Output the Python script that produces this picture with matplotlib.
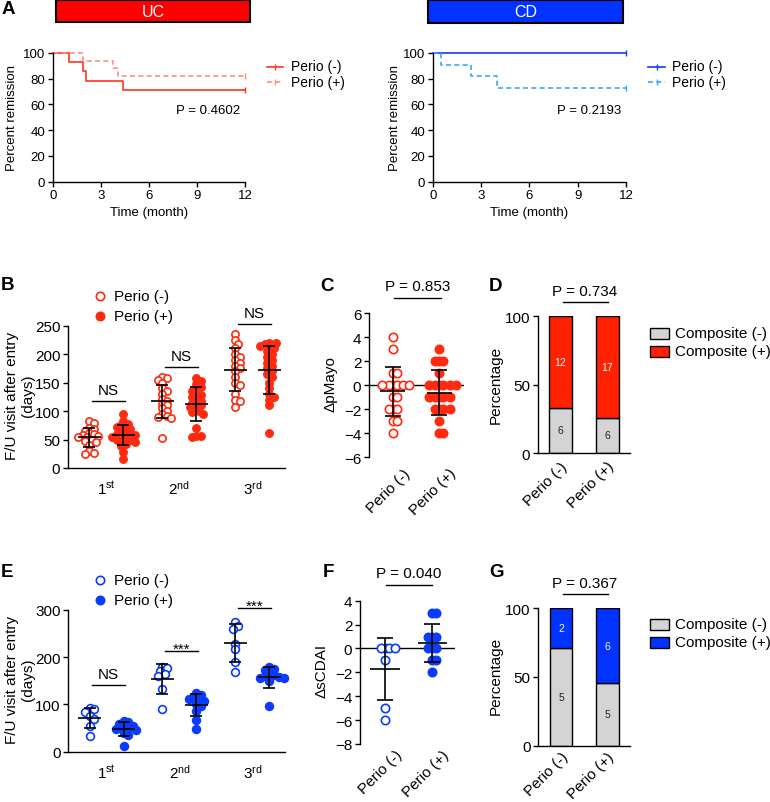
import numpy as np
import matplotlib
matplotlib.use('Agg')
import matplotlib.pyplot as plt
import matplotlib.transforms as mtrans
from matplotlib.patches import Rectangle

plt.rcParams['font.family'] = ['Liberation Sans', 'DejaVu Sans']
plt.rcParams['mathtext.default'] = 'regular'

W, H = 770, 803
RED = '#ff2a10'
BLUE = '#0a3cff'
GRAY = '#d4d4d4'

# ---- A: survival curves (time in months, % remission) ----
uc_neg_t = [0, 1.0, 1.87, 2.1, 4.4, 12]
uc_neg_s = [100, 92.9, 85.7, 78.6, 71.4, 71.4]
uc_pos_t = [0, 1.87, 3.74, 4.1, 12]
uc_pos_s = [100, 94.1, 88.2, 82.4, 82.4]
cd_neg_t = [0, 12]
cd_neg_s = [100, 100]
cd_pos_t = [0, 0.5, 2.36, 3.97, 12]
cd_pos_s = [100, 90.9, 81.8, 72.7, 72.7]

# ---- B: UC follow-up visit days ----
visits = ['1$^{st}$', '2$^{nd}$', '3$^{rd}$']
uc_fu_neg = [
    [83, 79, 70, 68, 65, 62, 60, 58, 57, 55, 55, 50, 48, 45, 40, 30, 27, 25],
    [160, 158, 155, 150, 140, 135, 130, 122, 118, 113, 110, 105, 100, 95, 92, 90, 88, 53],
    [235, 225, 218, 210, 200, 195, 190, 185, 180, 175, 170, 160, 150, 145, 130, 120, 118, 108],
]
uc_fu_pos = [
    [95, 82, 78, 75, 72, 70, 68, 65, 62, 60, 60, 58, 56, 55, 52, 50, 50, 48, 45, 42, 38, 28, 15],
    [158, 152, 148, 142, 138, 135, 130, 128, 125, 120, 118, 115, 112, 110, 108, 105, 100, 98, 95, 70, 57, 56, 55],
    [220, 220, 218, 215, 212, 210, 205, 200, 195, 190, 185, 180, 175, 170, 165, 160, 150, 140, 130, 125, 120, 110, 62],
]
uc_sig = ['NS', 'NS', 'NS']

# ---- C: delta pMayo ----
groups = ['Perio (-)', 'Perio (+)']
pmayo_neg = [4, 3, 1, 1, 0, 0, 0, 0, 0, 0, -1, -1, -2, -2, -2, -3, -3, -4]
pmayo_pos = [3, 2, 2, 2, 1, 0, 0, 0, 0, 0, 0, -1, -1, -1, -1, -1, -2, -2, -2, -2, -3, -4, -4]

# ---- D: UC composite counts ----
uc_comp_neg = [6, 6]
uc_comp_pos = [12, 17]

# ---- E: CD follow-up visit days ----
cd_fu_neg = [
    [92, 90, 84.5, 76, 69, 55, 34],
    [180, 176, 170, 165, 160, 132, 90],
    [275, 265, 260, 228, 217, 190, 168],
]
cd_fu_pos = [
    [65, 62, 58, 55, 52, 50, 48, 46, 40, 35, 13],
    [125, 120, 115, 112, 110, 108, 100, 97, 85, 68, 47],
    [178, 175, 172, 165, 162, 160, 158, 155, 155, 150, 97],
]
cd_sig = ['NS', '***', '***']

# ---- F: delta sCDAI ----
scdai_neg = [0, 0, 0, 0, -1, -5, -6]
scdai_pos = [3, 3, 1, 1, 1, 0, 0, 0, -1, -1, -2]

# ---- G: CD composite counts ----
cd_comp_neg = [5, 5]
cd_comp_pos = [2, 6]

fig = plt.figure(figsize=(W / 100, H / 100), dpi=100)


def add_ax(x0, y0, x1, y1):
    return fig.add_axes([x0 / W, 1 - y1 / H, (x1 - x0) / W, (y1 - y0) / H])


def prism(ax, fs):
    for s in ['top', 'right']:
        ax.spines[s].set_visible(False)
    for s in ['left', 'bottom']:
        ax.spines[s].set_linewidth(1.0)
    ax.tick_params(direction='out', length=3.5, width=1.0, labelsize=fs, pad=2)


def swarm(ax, xc, vals, diam, gap):
    vals = np.asarray(vals, dtype=float)
    disp = ax.transData.transform(np.column_stack([np.full(len(vals), xc, dtype=float), vals]))
    out = disp.copy()
    placed = []
    step = diam * gap * 0.5
    for i in np.argsort(-vals, kind='stable'):
        x0, y0 = disp[i]
        cx = x0
        for k in range(400):
            off = ((k + 1) // 2) * step * (1 if k % 2 else -1)
            cx = x0 + off
            if all((cx - px) ** 2 + (y0 - py) ** 2 >= (diam * gap) ** 2 for px, py in placed):
                break
        placed.append((cx, y0))
        out[i, 0] = cx
    return ax.transData.inverted().transform(out)[:, 0]


def dots(ax, xc, vals, color, filled, msize, gap, cap, hw):
    xs = swarm(ax, xc, vals, msize * 100 / 72, gap)
    ax.scatter(xs, vals, s=msize ** 2, facecolors=color if filled else 'white',
               edgecolors=color, linewidths=1.2, zorder=2, clip_on=False)
    m = np.mean(vals)
    sd = np.std(vals, ddof=1)
    ax.errorbar(xc, m, yerr=sd, color='k', capsize=cap, elinewidth=1.2,
                capthick=1.2, zorder=3, fmt='none')
    ax.hlines(m, xc - hw, xc + hw, color='k', lw=1.2, zorder=3)


def shift_xlabels(ax, dx_px):
    off = mtrans.ScaledTranslation(dx_px / 100, 0, fig.dpi_scale_trans)
    for lab in ax.get_xticklabels():
        lab.set_transform(lab.get_transform() + off)


# ---------------- Panel A ----------------
def surv(ax, t1, s1, t2, s2, c1, c2):
    ax.step(t1, s1, where='post', color=c1, lw=1.2, clip_on=False)
    ax.step(t2, s2, where='post', color=c2, lw=1.2, ls=(0, (3, 2)), clip_on=False)
    ax.plot(t1[-1], s1[-1], marker='|', ms=4, color=c1, clip_on=False)
    ax.plot(t2[-1], s2[-1], marker='|', ms=4, color=c2, clip_on=False)
    ax.set_xlim(0, 12)
    ax.set_ylim(0, 100)
    ax.set_xticks([0, 3, 6, 9, 12])
    ax.set_yticks([0, 20, 40, 60, 80, 100])
    prism(ax, 9.5)


axA1 = add_ax(52.7, 54, 245, 182.7)
surv(axA1, uc_neg_t, uc_neg_s, uc_pos_t, uc_pos_s, '#ff3322', '#ff8c80')
axA2 = add_ax(432.7, 54, 626, 182.7)
surv(axA2, cd_neg_t, cd_neg_s, cd_pos_t, cd_pos_s, '#1438ff', '#33aaff')

# ---------------- Panels B / E ----------------
def visit_panel(ax, neg, pos, color, ymax, ystep, msize):
    ax.set_xlim(-0.525, 2.448)
    ax.set_ylim(0, ymax)
    ax.set_yticks(np.arange(0, ymax + 1, ystep))
    for i in range(3):
        dots(ax, i - 0.233, neg[i], color, False, msize, 0.62, 4.3, 0.155)
        dots(ax, i + 0.233, pos[i], color, True, msize, 0.62, 4.3, 0.155)
    ax.set_xticks(range(3))
    ax.set_xticklabels(visits)
    prism(ax, 11)
    ax.tick_params(axis='x', length=0, pad=8)


axB = add_ax(68, 326.7, 285, 469)
visit_panel(axB, uc_fu_neg, uc_fu_pos, RED, 250, 50, 5.2)
axE = add_ax(68.3, 610.7, 285, 752.7)
visit_panel(axE, cd_fu_neg, cd_fu_pos, BLUE, 300, 100, 5.6)

# ---------------- Panels C / F ----------------
def delta_panel(ax, neg, pos, color, ylo, yhi, xl, xr, cap, hw, pad):
    ax.set_xlim(xl, xr)
    ax.set_ylim(ylo, yhi)
    ax.set_yticks(np.arange(ylo, yhi + 1, 2))
    dots(ax, 0, neg, color, False, 6.0, 0.5, cap, hw)
    dots(ax, 1, pos, color, True, 6.0, 0.5, cap, hw)
    ax.axhline(0, color='k', lw=1.0, zorder=1)
    prism(ax, 11)
    ax.spines['bottom'].set_visible(False)
    ax.set_xticks([0, 1])
    ax.set_xticklabels(groups, rotation=45, ha='right', rotation_mode='anchor')
    ax.tick_params(axis='x', length=0, pad=pad)
    shift_xlabels(ax, 10)


axC = add_ax(369, 314.3, 464, 458.3)
delta_panel(axC, pmayo_neg, pmayo_pos, RED, -6, 6, -0.51, 1.53, 6.0, 0.27, 6)
axF = add_ax(360, 601.7, 455, 745)
delta_panel(axF, scdai_neg, scdai_pos, BLUE, -8, 4, -0.53, 1.48, 5.6, 0.31, 2.5)

# ---------------- Panels D / G ----------------
def comp_panel(ax, cneg, cpos, color, pad):
    cneg = np.asarray(cneg, dtype=float)
    cpos = np.asarray(cpos, dtype=float)
    pneg = cneg / (cneg + cpos) * 100
    ppos = 100 - pneg
    x = np.arange(2)
    ax.bar(x, pneg, 0.49, color=GRAY, edgecolor='k', lw=1.0)
    ax.bar(x, ppos, 0.49, bottom=pneg, color=color, edgecolor='k', lw=1.0)
    for i in range(2):
        ax.text(x[i], pneg[i] / 2, '%d' % cneg[i], ha='center', va='center', fontsize=7.5, color='#222222')
        ax.text(x[i], pneg[i] + ppos[i] / 2, '%d' % cpos[i], ha='center', va='center', fontsize=7.5, color='white')
    ax.set_xlim(-0.49, 1.49)
    ax.set_ylim(0, 100)
    ax.set_yticks([0, 50, 100])
    prism(ax, 11)
    ax.set_xticks([0, 1])
    ax.set_xticklabels(groups, rotation=45, ha='right', rotation_mode='anchor')
    ax.tick_params(axis='x', length=0, pad=pad)


axD = add_ax(537.7, 317.3, 630, 454.3)
comp_panel(axD, uc_comp_neg, uc_comp_pos, '#ff2200', 4)
axG = add_ax(538.3, 609.3, 630, 746.7)
comp_panel(axG, cd_comp_neg, cd_comp_pos, '#0033ff', 2.5)

# ---------------- annotations in pixel space ----------------
ov = fig.add_axes([0, 0, 1, 1], zorder=10)
ov.set_xlim(0, W)
ov.set_ylim(H, 0)
ov.axis('off')

# banners
ov.add_patch(Rectangle((56, 1), 194, 22, facecolor='#ff0000', edgecolor='k', lw=1.5))
ov.text(153, 12.5, 'UC', color='white', fontsize=11.5, ha='center', va='center')
ov.add_patch(Rectangle((428.3, 1), 195, 23, facecolor='#0033ff', edgecolor='k', lw=1.5))
ov.text(526, 12.5, 'CD', color='white', fontsize=11.5, ha='center', va='center')

# panel letters
for lt, x, y in [('A', 8, 9), ('B', 7, 286), ('C', 327, 287), ('D', 495, 287),
                 ('E', 7, 573), ('F', 328, 573), ('G', 497, 573)]:
    ov.text(x, y, lt, fontsize=13.5, fontweight='bold', ha='center', va='center')

# y labels
for txt, x, y, fs in [('Percent remission', 12, 118, 9.5), ('Percent remission', 395, 118, 9.5),
                      ('F/U visit after entry\n(days)', 20, 396, 11),
                      ('F/U visit after entry\n(days)', 20, 680, 11),
                      ('ΔpMayo', 331, 384, 11), ('ΔsCDAI', 322, 671, 11),
                      ('Percentage', 496, 385, 11), ('Percentage', 496, 676, 11)]:
    ov.text(x, y, txt, rotation=90, fontsize=fs, ha='center', va='center',
            multialignment='center', linespacing=1.1)

# A x labels, legends, p-values
ov.text(149, 213, 'Time (month)', fontsize=9.5, ha='center', va='center')
ov.text(529, 213, 'Time (month)', fontsize=9.5, ha='center', va='center')
for x0, cols in [(266.7, ['#ff3322', '#ff8c80']), (648.3, ['#1438ff', '#33aaff'])]:
    for j, (lab, ls) in enumerate([('Perio (-)', '-'), ('Perio (+)', (0, (3, 2)))]):
        y = 67.5 + 15 * j
        ov.plot([x0, x0 + 16.5], [y, y], color=cols[j], lw=1.2, ls=ls)
        ov.plot(x0 + 8.3, y, marker='|', ms=4, color=cols[j])
        ov.text(x0 + 24, y, lab, fontsize=10, va='center')
ov.text(240, 111.5, 'P = 0.4602', fontsize=9.5, ha='right', va='center')
ov.text(621, 111.5, 'P = 0.2193', fontsize=9.5, ha='right', va='center')

# B / E legends
for yl, col in [(296.7, RED), (580.7, BLUE)]:
    ov.scatter([100], [yl], s=36, facecolors='white', edgecolors=col, linewidths=1.2)
    ov.scatter([100], [yl + 20], s=36, facecolors=col, edgecolors=col, linewidths=1.2)
    ov.text(114, yl, 'Perio (-)', fontsize=11, va='center')
    ov.text(114, yl + 20, 'Perio (+)', fontsize=11, va='center')

# significance marks in B / E
for sig, bars in [(uc_sig, [402.3, 368.3, 325]), (cd_sig, [686, 651.7, 609])]:
    for i, (s, yb) in enumerate(zip(sig, bars)):
        xc = 108.3 + 73 * i
        ov.plot([xc - 16.7, xc + 16.7], [yb, yb], color='k', lw=1.0)
        ov.text(xc, yb - 4 if s == 'NS' else yb + 2, s, fontsize=11,
                ha='center', va='bottom' if s == 'NS' else 'baseline')

# p-value brackets in C D F G
for txt, xc, yt, yb, x0, x1 in [('P = 0.853', 417.3, 287, 299, 394, 441),
                                ('P = 0.734', 584.3, 292, 303.3, 562.7, 607.7),
                                ('P = 0.040', 408.3, 574, 586, 386, 432),
                                ('P = 0.367', 584.3, 584, 595, 562.7, 607.7)]:
    ov.text(xc, yt, txt, fontsize=11, ha='center', va='center')
    ov.plot([x0, x1], [yb, yb], color='k', lw=1.0)

# D / G legends
for yl, col in [(334.3, '#ff2200'), (625, '#0033ff')]:
    for j, (lab, fc) in enumerate([('Composite (-)', GRAY), ('Composite (+)', col)]):
        y = yl + 18 * j
        ov.add_patch(Rectangle((650, y - 5.5), 19, 11, facecolor=fc, edgecolor='k', lw=1.0))
        ov.text(675, y, lab, fontsize=11, va='center')

fig.savefig('out.png', dpi=100)
